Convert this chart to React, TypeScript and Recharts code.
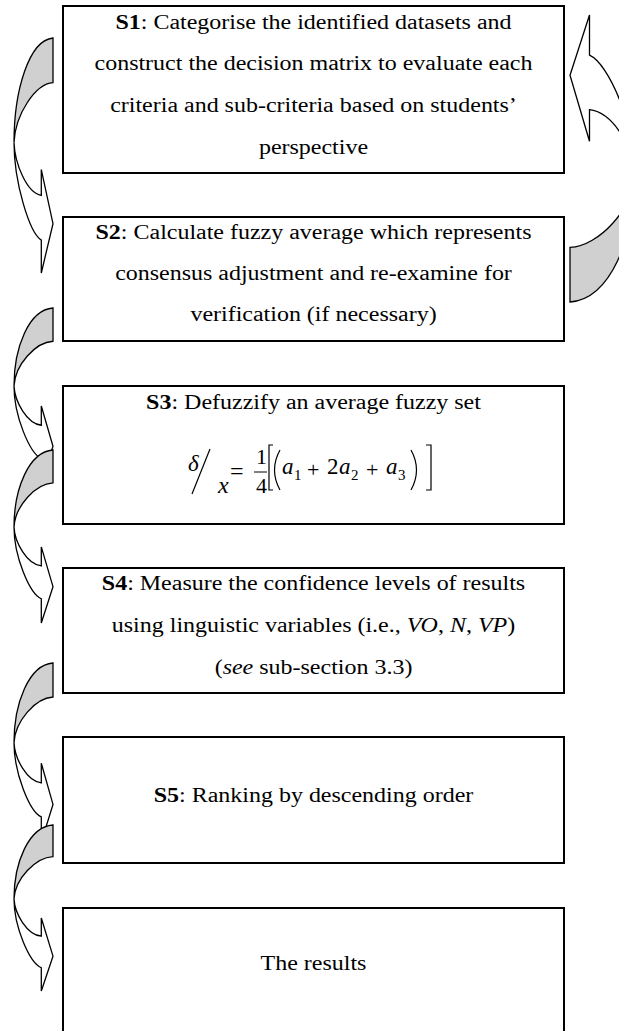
import React from "react";
import { ComposedChart, ReferenceArea, Scatter, XAxis, YAxis } from "recharts";

const WIDTH = 619;
const HEIGHT = 1031;

// step boxes (top / bottom edge on the y axis)
const boxTop = [6, 217, 386, 568, 737, 908];
const boxBottom = [173, 341, 524, 693, 863, 1045];
const boxLeft = 63;
const boxRight = 564;

// text lines: **bold**, *italic*
const lineText = [
  "**S1**: Categorise the identified datasets and",
  "construct the decision matrix to evaluate each",
  "criteria and sub-criteria based on students’",
  "perspective",
  "**S2**: Calculate fuzzy average which represents",
  "consensus adjustment and re-examine for",
  "verification (if necessary)",
  "**S3**: Defuzzify an average fuzzy set",
  "**S4**: Measure the confidence levels of results",
  "using linguistic variables (i.e., *VO*, *N*, *VP*)",
  "(*see* sub-section 3.3)",
  "**S5**: Ranking by descending order",
  "The results",
];
const lineY = [22, 63, 105, 147, 232, 273, 314, 402, 583, 625, 667, 795, 963];

// formula centre in S3
const formulaX = 313;
const formulaY = 472;

// curved arrows on the left (S1->S2, S2->S3, ...)
const loopTop = [38, 308, 450, 663, 825];
const loopBottom = [273, 483, 623, 842, 991];
const loopLeft = 14;
const loopRight = 53;

// curved arrow back from S2 to S1 on the right
const backTop = 15;
const backBottom = 302;
const backLeft = 570;
const backRight = 635;

const FONT = "'Liberation Serif', 'Times New Roman', serif";
const FS = 20.5;
const STRETCH = 1.17;

const lines = lineText.map((t, i) => ({ x: (boxLeft + boxRight) / 2, y: lineY[i], t }));

function parse(t: string) {
  return t
    .split(/(\*\*[^*]+\*\*|\*[^*]+\*)/)
    .filter((s) => s.length)
    .map((s) => {
      if (s.startsWith("**")) return { s: s.slice(2, -2), b: true, i: false };
      if (s.startsWith("*")) return { s: s.slice(1, -1), b: false, i: true };
      return { s, b: false, i: false };
    });
}

function LineLabel(props: any) {
  const { cx, cy, payload } = props;
  return (
    <g transform={`translate(${cx} ${cy + 7}) scale(${STRETCH} 1)`}>
      <text x={0} y={0} textAnchor="middle" fontFamily={FONT} fontSize={FS} fill="#000">
        {parse(payload.t).map((p, k) => (
          <tspan key={k} fontWeight={p.b ? "bold" : "normal"} fontStyle={p.i ? "italic" : "normal"}>
            {p.s}
          </tspan>
        ))}
      </text>
    </g>
  );
}

function BoxShape(props: any) {
  const { x, y, width, height } = props;
  return <rect x={x} y={y} width={width} height={height} fill="#fff" stroke="#000" strokeWidth={2} />;
}

function arrowShape(flip: boolean) {
  return (props: any) => {
    const { x, y, width: w, height: h } = props;
    const P = (fx: number, fy: number) => `${(x + fx * w).toFixed(2)},${(y + fy * h).toFixed(2)}`;
    const L = 0.445;
    const xb = 0.7;
    const tailB = 0.19;
    const neckT = 0.67;
    const neckB = 0.86;
    const gray =
      `M${P(1, 0)} C${P(0.38, 0.01)} ${P(0, L - 0.22)} ${P(0, L)} ` +
      `C${P(0.03, L - 0.12)} ${P(0.55, tailB + 0.005)} ${P(1, tailB)} Z`;
    const white =
      `M${P(0, L)} C${P(0, L + 0.17)} ${P(xb - 0.3, neckB - 0.03)} ${P(xb, neckB)} ` +
      `L${P(xb, 1)} L${P(1, 0.79)} L${P(xb, 0.56)} L${P(xb, neckT)} ` +
      `C${P(0.33, neckT - 0.01)} ${P(0.02, L + 0.09)} ${P(0, L)} Z`;
    const t = flip ? `rotate(180 ${x + w / 2} ${y + h / 2})` : undefined;
    return (
      <g transform={t}>
        <path d={gray} fill="#d0d0d0" stroke="#000" strokeWidth={1.3} />
        <path d={white} fill="#fff" stroke="#000" strokeWidth={1.3} />
      </g>
    );
  };
}

function Formula(props: any) {
  const { cx, cy } = props;
  const X = (d: number) => cx + d;
  const Y = (d: number) => cy + d;
  const it = { fontFamily: FONT, fontStyle: "italic" as const, fill: "#000" };
  const rm = { fontFamily: FONT, fill: "#000" };
  const ink = { stroke: "#000", strokeWidth: 1.2, fill: "none" };
  return (
    <g>
      <text x={X(-125)} y={Y(-1)} fontSize={23} {...it}>δ</text>
      <line x1={X(-121)} y1={Y(22)} x2={X(-103)} y2={Y(-23)} {...ink} />
      <text x={X(-95)} y={Y(21)} fontSize={24} {...it}>x</text>
      <text x={X(-83)} y={Y(7)} fontSize={24} {...rm}>=</text>
      <text x={X(-57)} y={Y(-8)} fontSize={22} {...rm}>1</text>
      <line x1={X(-59)} y1={Y(0)} x2={X(-46)} y2={Y(0)} {...ink} strokeWidth={1} />
      <text x={X(-57)} y={Y(21)} fontSize={22} {...rm}>4</text>
      <path d={`M${X(-40)},${Y(-27)} H${X(-44)} V${Y(18)} H${X(-40)}`} {...ink} />
      <path d={`M${X(-33)},${Y(-22)} Q${X(-44)},${Y(-2)} ${X(-33)},${Y(18)}`} {...ink} />
      <text x={X(-31)} y={Y(2)} fontSize={23} {...it}>a</text>
      <text x={X(-19)} y={Y(8)} fontSize={15} {...rm}>1</text>
      <text x={X(-6)} y={Y(5)} fontSize={22} {...rm}>+</text>
      <text x={X(14)} y={Y(2)} fontSize={23} {...rm}>2</text>
      <text x={X(26)} y={Y(2)} fontSize={23} {...it}>a</text>
      <text x={X(38)} y={Y(8)} fontSize={15} {...rm}>2</text>
      <text x={X(53)} y={Y(5)} fontSize={22} {...rm}>+</text>
      <text x={X(73)} y={Y(2)} fontSize={23} {...it}>a</text>
      <text x={X(85)} y={Y(8)} fontSize={15} {...rm}>3</text>
      <path d={`M${X(98)},${Y(-22)} Q${X(109)},${Y(-2)} ${X(98)},${Y(18)}`} {...ink} />
      <path d={`M${X(113)},${Y(-27)} H${X(118)} V${Y(18)} H${X(113)}`} {...ink} />
    </g>
  );
}

export default function App() {
  return (
    <div style={{ position: "absolute", left: 0, top: 0, background: "#fff" }}>
      <ComposedChart width={WIDTH} height={HEIGHT} margin={{ top: 0, right: 0, bottom: 0, left: 0 }}>
        <XAxis type="number" dataKey="x" domain={[0, WIDTH]} hide allowDataOverflow />
        <YAxis type="number" dataKey="y" domain={[0, HEIGHT]} reversed hide allowDataOverflow />
        {boxTop.map((t, i) => (
          <ReferenceArea
            key={`box${i}`}
            x1={boxLeft}
            x2={boxRight}
            y1={t}
            y2={boxBottom[i]}
            ifOverflow="visible"
            shape={<BoxShape />}
          />
        ))}
        {loopTop.map((t, i) => (
          <ReferenceArea
            key={`loop${i}`}
            x1={loopLeft}
            x2={loopRight}
            y1={t}
            y2={loopBottom[i]}
            ifOverflow="visible"
            shape={arrowShape(false)}
          />
        ))}
        <ReferenceArea
          x1={backLeft}
          x2={backRight}
          y1={backTop}
          y2={backBottom}
          ifOverflow="visible"
          shape={arrowShape(true)}
        />
        <Scatter data={lines} dataKey="y" isAnimationActive={false} shape={LineLabel} />
        <Scatter data={[{ x: formulaX, y: formulaY }]} dataKey="y" isAnimationActive={false} shape={Formula} />
      </ComposedChart>
    </div>
  );
}
